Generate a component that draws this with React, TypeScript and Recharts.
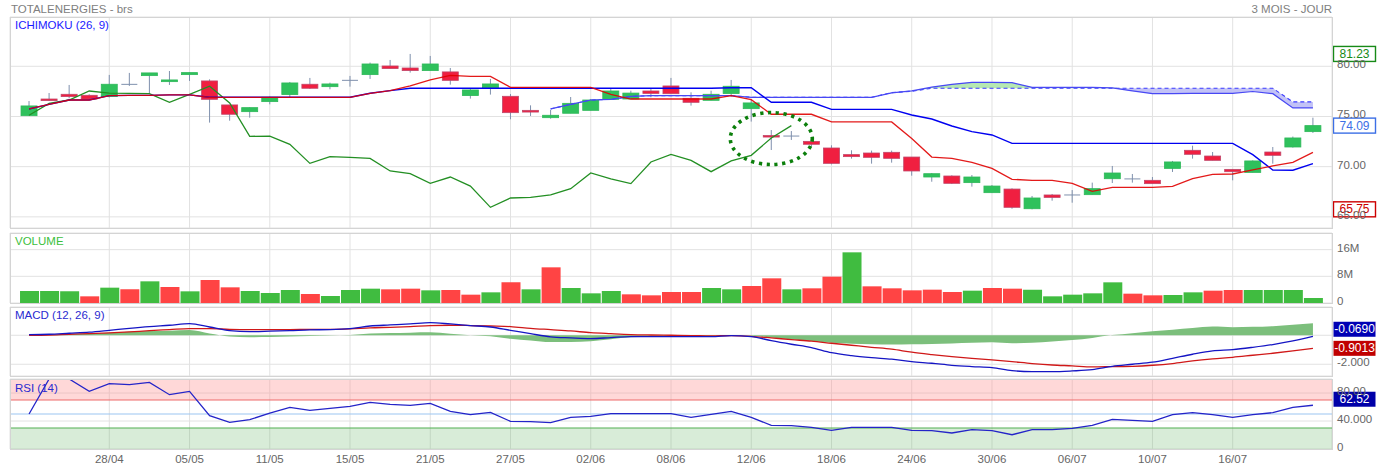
import React from "react";
import {
  ComposedChart,
  Bar,
  Line,
  Area,
  XAxis,
  YAxis,
  CartesianGrid,
  ReferenceLine,
  ReferenceArea,
  ReferenceDot,
  Cell,
} from "recharts";

const FONT = "'Liberation Sans', Arial, Helvetica, sans-serif";

// trading sessions, one candle each
const dates = [
  "22/04", "23/04", "24/04", "27/04", "28/04", "29/04", "30/04", "04/05", "05/05", "06/05",
  "07/05", "08/05", "11/05", "12/05", "13/05", "14/05", "15/05", "18/05", "19/05", "20/05",
  "21/05", "22/05", "25/05", "26/05", "27/05", "28/05", "29/05", "01/06", "02/06", "03/06",
  "04/06", "05/06", "08/06", "09/06", "10/06", "11/06", "12/06", "15/06", "16/06", "17/06",
  "18/06", "19/06", "22/06", "23/06", "24/06", "25/06", "26/06", "29/06", "30/06", "01/07",
  "02/07", "03/07", "06/07", "07/07", "08/07", "09/07", "10/07", "13/07", "14/07", "15/07",
  "16/07", "17/07", "20/07", "21/07", "22/07",
];

const opens = [
  75.08, 76.74, 77.21, 77.11, 76.98, 78.2, 79.07, 78.47, 79.17, 78.54,
  76.15, 75.48, 76.48, 77.18, 78.21, 77.97, 78.6, 79.17, 80.03, 79.83,
  79.57, 79.44, 77.08, 77.87, 77.01, 75.61, 74.88, 75.32, 75.61, 76.71,
  76.74, 77.54, 78.04, 76.81, 76.61, 77.28, 75.78, 73.1, 73.05, 72.52,
  71.86, 71.2, 71.36, 71.43, 70.96, 68.97, 69.07, 68.41, 67.41, 67.77,
  65.81, 67.18, 67.18, 67.21, 68.8, 68.78, 68.64, 69.83, 71.63, 71.06,
  69.73, 69.43, 71.46, 71.96, 73.49,
];
const highs = [
  76.54, 77.34, 78.14, 77.21, 79.14, 79.34, 79.34, 79.53, 79.4, 78.7,
  76.15, 75.91, 76.98, 78.44, 78.84, 78.37, 79.04, 80.37, 80.63, 81.23,
  81.03, 79.83, 77.8, 78.74, 77.24, 76.11, 75.65, 76.94, 76.74, 77.77,
  77.57, 77.74, 78.84, 77.41, 77.57, 78.64, 76.64, 73.65, 73.55, 72.72,
  72.13, 71.63, 71.6, 71.6, 70.96, 69.37, 69.14, 69.17, 68.17, 67.84,
  67.08, 67.28, 67.67, 68.41, 70.07, 69.27, 68.97, 70.57, 72.09, 71.46,
  69.73, 70.63, 71.96, 73.0, 74.88,
];
const lows = [
  75.05, 76.54, 76.81, 76.64, 76.9, 78.04, 77.31, 78.14, 78.54, 74.39,
  74.58, 74.88, 76.21, 76.94, 77.74, 77.71, 77.97, 78.74, 79.77, 79.37,
  79.57, 78.17, 76.78, 77.18, 74.72, 75.05, 74.78, 75.32, 75.61, 76.71,
  76.74, 76.91, 77.27, 76.08, 76.61, 76.98, 74.49, 71.66, 72.66, 72.0,
  70.23, 70.8, 70.3, 70.4, 69.1, 68.5, 68.27, 68.01, 67.41, 65.81,
  65.75, 66.61, 66.41, 67.21, 68.37, 68.41, 68.31, 69.47, 70.8, 70.63,
  68.64, 69.43, 70.3, 71.9, 73.36,
];
const closes = [
  76.05, 76.58, 76.98, 76.74, 78.21, 78.2, 79.34, 78.64, 79.37, 76.71,
  75.22, 75.88, 76.91, 78.34, 77.81, 78.24, 78.6, 80.23, 79.77, 79.57,
  80.23, 78.6, 77.64, 78.24, 75.38, 75.44, 75.12, 76.31, 76.64, 77.54,
  77.33, 77.3, 77.27, 76.41, 77.21, 78.01, 76.35, 73.02, 73.05, 72.23,
  70.33, 71.0, 70.93, 70.83, 69.57, 69.3, 68.34, 68.97, 68.07, 65.95,
  66.88, 66.94, 67.18, 67.81, 69.37, 68.78, 68.31, 70.47, 71.23, 70.63,
  69.5, 70.57, 71.13, 72.86, 74.09,
];

// volume in millions of shares
const volumes = [
  3.6, 3.6, 3.5, 2.0, 4.6, 4.1, 6.5, 4.8, 3.5, 6.9,
  4.7, 3.6, 3.0, 3.9, 2.7, 2.1, 3.9, 4.3, 4.1, 4.3,
  3.8, 3.9, 2.5, 3.2, 6.2, 4.1, 10.7, 4.5, 2.9, 3.6,
  2.6, 2.3, 3.3, 3.3, 4.5, 4.1, 5.1, 7.4, 4.1, 4.4,
  7.9, 15.2, 5.0, 4.4, 3.8, 4.0, 3.3, 3.7, 4.5, 4.3,
  4.0, 2.0, 2.5, 2.9, 6.2, 2.8, 2.3, 2.4, 3.2, 3.7,
  3.9, 3.9, 3.9, 3.9, 1.5,
];

// ichimoku: conversion line (9) and base line (26)
const tenkan = [
  75.75, 76.21, 76.64, 76.64, 77.08, 77.1, 77.1, 77.15, 77.15, 76.91,
  76.91, 76.91, 76.91, 76.91, 76.91, 76.91, 76.91, 77.31, 77.57, 78.04,
  78.64, 79.1, 79.0, 79.0, 77.9, 77.9, 77.9, 77.9, 77.9, 77.2,
  76.74, 76.74, 76.74, 76.74, 76.74, 77.08, 76.67, 75.22, 75.22, 75.22,
  74.46, 74.46, 74.46, 74.46, 72.8, 70.96, 70.83, 70.43, 69.83, 68.74,
  68.64, 68.64, 68.34, 67.54, 67.94, 67.94, 67.94, 68.04, 68.8, 69.24,
  69.27, 69.67, 70.07, 70.43, 71.43,
];
const kijun = [
  75.75, 76.21, 76.64, 76.64, 77.08, 77.1, 77.1, 77.15, 77.15, 76.91,
  76.91, 76.91, 76.91, 76.91, 76.91, 76.91, 76.91, 77.31, 77.57, 77.81,
  77.81, 77.81, 77.81, 77.81, 77.81, 77.81, 77.81, 77.81, 77.81, 77.81,
  77.81, 77.81, 77.81, 77.81, 77.81, 77.86, 77.86, 76.41, 76.41, 76.41,
  75.71, 75.71, 75.71, 75.71, 75.15, 74.75, 74.05, 73.49, 73.16, 72.32,
  72.32, 72.32, 72.32, 72.32, 72.32, 72.32, 72.32, 72.32, 72.32, 72.32,
  72.32, 71.2, 69.67, 69.65, 70.3,
];

// leading spans, plotted from session 26 onward
const SPAN_START = 26;
const senkouA = [
  75.75, 76.21, 76.64, 76.7, 77.0, 77.08, 77.08, 77.08, 77.08, 77.08,
  76.91, 76.91, 76.91, 76.91, 76.91, 76.91, 76.91, 77.35, 77.55, 77.93,
  78.2, 78.4, 78.4, 78.37, 77.9, 77.9, 77.9, 77.9, 77.85, 77.55,
  77.27, 77.27, 77.3, 77.31, 77.31, 77.49, 77.27, 75.85, 75.85,
];
const senkouB = [
  75.75, 76.21, 76.64, 76.7, 77.0, 77.08, 77.08, 77.08, 77.08, 77.08,
  76.91, 76.91, 76.91, 76.91, 76.91, 76.91, 76.91, 77.38, 77.51, 77.81,
  77.81, 77.81, 77.81, 77.81, 77.81, 77.81, 77.81, 77.81, 77.81, 77.81,
  77.81, 77.81, 77.81, 77.81, 77.81, 77.81, 77.81, 76.45, 76.45,
];
// lagging span = close drawn 26 sessions back
const CHIKOU_SHIFT = 26;

const macdLine = [
  0.05, 0.07, 0.14, 0.21, 0.34, 0.48, 0.6, 0.69, 0.8, 0.57,
  0.32, 0.25, 0.28, 0.32, 0.37, 0.39, 0.46, 0.64, 0.71, 0.78,
  0.87, 0.78, 0.67, 0.57, 0.34, 0.11, -0.11, -0.18, -0.23, -0.16,
  -0.09, -0.09, -0.09, -0.09, -0.09, -0.02, -0.09, -0.37, -0.62, -0.85,
  -1.2, -1.4, -1.54, -1.65, -1.82, -1.93, -2.07, -2.16, -2.23, -2.44,
  -2.51, -2.51, -2.46, -2.37, -2.14, -2.0, -1.86, -1.59, -1.31, -1.08,
  -0.99, -0.83, -0.64, -0.39, -0.069,
];
const signalLine = [
  0, 0.02, 0.07, 0.11, 0.16, 0.23, 0.32, 0.39, 0.46, 0.46,
  0.41, 0.39, 0.39, 0.39, 0.41, 0.41, 0.44, 0.51, 0.55, 0.6,
  0.67, 0.69, 0.67, 0.64, 0.6, 0.48, 0.39, 0.3, 0.18, 0.11,
  0.05, 0.02, 0, -0.02, -0.05, -0.02, -0.07, -0.18, -0.3, -0.41,
  -0.55, -0.69, -0.83, -0.96, -1.17, -1.33, -1.47, -1.59, -1.7, -1.82,
  -1.95, -2.05, -2.11, -2.18, -2.16, -2.14, -2.07, -1.95, -1.77, -1.63,
  -1.52, -1.38, -1.24, -1.08, -0.9013,
];
const histogram = [
  0, 0.02, 0.07, 0.1, 0.17, 0.24, 0.29, 0.32, 0.36, 0.12,
  -0.08, -0.13, -0.12, -0.08, -0.05, -0.02, 0.02, 0.12, 0.15, 0.18,
  0.2, 0.1, 0, -0.07, -0.24, -0.36, -0.47, -0.46, -0.41, -0.27,
  -0.14, -0.1, -0.08, -0.06, -0.04, 0, -0.03, -0.15, -0.28, -0.4,
  -0.52, -0.58, -0.62, -0.64, -0.62, -0.6, -0.57, -0.52, -0.48, -0.55,
  -0.52, -0.43, -0.33, -0.18, 0.01, 0.14, 0.27, 0.38, 0.5, 0.6,
  0.55, 0.58, 0.63, 0.72, 0.832,
];

const rsi = [
  50, 100, 100, 82.3, 93.3, 91.9, 95.2, 77.6, 82.3, 47.6,
  38, 41.9, 51.4, 59.5, 55.2, 58, 60.9, 66.6, 63.8, 62.3,
  65.2, 53.8, 49, 52.3, 39.5, 39, 37.6, 45.2, 46.6, 50.4,
  50.4, 50.4, 50.4, 45.2, 49.5, 53.8, 45.2, 33.8, 33.3, 30.9,
  26.6, 30.9, 30.9, 30.9, 26.6, 26.2, 22.9, 27.6, 26.2, 20.4,
  27.6, 27.6, 29.5, 33.8, 42.3, 40.9, 39.5, 49, 51.9, 49,
  45.2, 49, 51.9, 59.5, 62.52,
];

const X_TICKS = [4, 8, 12, 16, 20, 24, 28, 32, 36, 40, 44, 48, 52, 56, 60];
const X_DOMAIN: [number, number] = [-0.95, 64.95];

const rows = dates.map((date, i) => {
  const a = i >= SPAN_START ? senkouA[i - SPAN_START] : null;
  const b = i >= SPAN_START ? senkouB[i - SPAN_START] : null;
  return {
    i,
    date,
    open: opens[i],
    high: highs[i],
    low: lows[i],
    close: closes[i],
    range: [lows[i], highs[i]],
    vol: volumes[i],
    up: i === 0 || closes[i] > closes[i - 1],
    tenkan: tenkan[i],
    kijun: kijun[i],
    chikou: i + CHIKOU_SHIFT < closes.length ? closes[i + CHIKOU_SHIFT] : null,
    spanA: a,
    spanB: b,
    cloudUp: a == null || b == null ? null : [b, Math.max(a, b)],
    cloudDown: a == null || b == null ? null : [Math.min(a, b), b],
    macd: macdLine[i],
    signal: signalLine[i],
    hist: histogram[i],
    rsi: rsi[i],
  };
});

const W = 1377;
const AXIS_W = 45;
const MARGIN = { top: 0, right: 0, bottom: 0, left: 10 };
const GRID = "#e2e2e2";
const BORDER = "#d4d4d4";
const WICK = "#7f90ad";

// right-side tick text, nudged a little above its grid line
const rightTick = (fmt: (v: number) => string) => (p: any) => (
  <text
    x={p.x}
    y={p.y - 2}
    textAnchor="start"
    dominantBaseline="central"
    fontFamily={FONT}
    fontSize={11.5}
    fill="#666"
  >
    {fmt(p.payload.value)}
  </text>
);

const Candle = (props: any) => {
  const { x, y, width, height, payload } = props;
  if (x == null || !payload) return null;
  const top = Math.min(y, y + height);
  const h = Math.abs(height);
  const { open, close, high, low } = payload;
  const py = (v: number) => (high === low ? top : top + ((high - v) / (high - low)) * h);
  const cx = x + width / 2;
  const yo = py(open);
  const yc = py(close);
  const wick = <line x1={cx} x2={cx} y1={top} y2={top + h} stroke={WICK} strokeWidth={1} />;
  if (open === close) {
    return (
      <g>
        {wick}
        <line x1={x} x2={x + width} y1={yo} y2={yo} stroke={WICK} strokeWidth={1} />
      </g>
    );
  }
  const rising = close > open;
  const bodyTop = Math.min(yo, yc);
  const bodyH = Math.max(Math.abs(yo - yc), 1.5);
  return (
    <g>
      {wick}
      <rect
        x={x}
        y={bodyTop}
        width={width}
        height={bodyH}
        fill={rising ? "#2fc15c" : "#f01f40"}
        stroke={rising ? "#2fb85a" : "#c0476a"}
        strokeWidth={0.8}
      />
    </g>
  );
};

// last-value tag drawn in the right-hand axis gutter
const tag = (text: string, color: string, filled: boolean, dy = 0) => (p: any) => {
  const bx = p.cx + 1.5;
  const cy = p.cy + dy;
  return (
    <g>
      <rect
        x={bx}
        y={cy - 7.5}
        width={42}
        height={15}
        fill={filled ? color : "#fff"}
        stroke={color}
        strokeWidth={filled ? 0 : 1.4}
      />
      <text
        x={bx + 21}
        y={cy}
        textAnchor="middle"
        dominantBaseline="central"
        fontFamily={FONT}
        fontSize={12}
        fill={filled ? "#fff" : color}
      >
        {text}
      </text>
    </g>
  );
};

const annotation = (p: any) => (
  <ellipse
    cx={p.cx}
    cy={p.cy}
    rx={41}
    ry={26}
    fill="none"
    stroke="#0b7f0b"
    strokeWidth={3.6}
    strokeDasharray="3.2 4.6"
  />
);

const Caption = ({ x, y, color, size = 11.5, children, right }: any) => (
  <div
    style={{
      position: "absolute",
      top: y - 7,
      left: right ? undefined : x,
      right: right ? W - x : undefined,
      lineHeight: "14px",
      fontSize: size,
      fontFamily: FONT,
      color,
      whiteSpace: "nowrap",
    }}
  >
    {children}
  </div>
);

const Frame = ({ top, height }: { top: number; height: number }) => (
  <div
    style={{
      position: "absolute",
      left: 10,
      top,
      width: 1323,
      height,
      border: `1px solid ${BORDER}`,
      boxSizing: "border-box",
      pointerEvents: "none",
    }}
  />
);

const hiddenX = (
  <XAxis type="number" dataKey="i" domain={X_DOMAIN} ticks={X_TICKS} allowDataOverflow hide />
);

const yAxisBase = {
  orientation: "right" as const,
  width: AXIS_W,
  interval: 0 as const,
  allowDataOverflow: true,
  axisLine: false,
  tickLine: false,
  tickSize: 0,
  tickMargin: 5,
};

export default function App() {
  return (
    <div style={{ position: "absolute", left: 0, top: 0, width: W, height: 470, background: "#fff" }}>
      <style>{`.recharts-surface { overflow: visible; }`}</style>
      <Caption x={11} y={9} color="#808080">TOTALENERGIES - brs</Caption>
      <Caption x={1332} y={9} color="#808080" right>3 MOIS - JOUR</Caption>

      {/* Ichimoku price panel */}
      <div style={{ position: "absolute", left: 0, top: 17 }}>
        <ComposedChart width={W} height={211} data={rows} margin={MARGIN}>
          <CartesianGrid stroke={GRID} />
          {hiddenX}
          <YAxis
            {...yAxisBase}
            domain={[63.89, 84.91]}
            ticks={[65, 70, 75, 80]}
            tick={rightTick((v) => v.toFixed(2))}
          />
          <Area dataKey="cloudUp" type="linear" stroke="none" fill="#b6e8b2" fillOpacity={1} isAnimationActive={false} />
          <Area dataKey="cloudDown" type="linear" stroke="none" fill="#c2c2f6" fillOpacity={1} isAnimationActive={false} />
          <Bar dataKey="range" barSize={16} shape={Candle} isAnimationActive={false} />
          <Line dataKey="chikou" type="linear" stroke="#238f23" strokeWidth={1.3} dot={false} activeDot={false} isAnimationActive={false} />
          <Line dataKey="spanB" type="linear" stroke="#3b3bff" strokeWidth={1.1} strokeDasharray="4 3" dot={false} activeDot={false} isAnimationActive={false} />
          <Line dataKey="spanA" type="linear" stroke="#4848f4" strokeWidth={1.2} dot={false} activeDot={false} isAnimationActive={false} />
          <Line dataKey="kijun" type="linear" stroke="#0000f0" strokeWidth={1.4} dot={false} activeDot={false} isAnimationActive={false} />
          <Line dataKey="tenkan" type="linear" stroke="#e00000" strokeWidth={1.3} strokeOpacity={0.9} dot={false} activeDot={false} isAnimationActive={false} />
          <ReferenceDot x={37} y={72.8} ifOverflow="visible" shape={annotation} />
          <ReferenceDot x={X_DOMAIN[1]} y={81.23} ifOverflow="visible" shape={tag("81.23", "#178a17", false)} />
          <ReferenceDot x={X_DOMAIN[1]} y={74.09} ifOverflow="visible" shape={tag("74.09", "#3c6fe6", false)} />
          <ReferenceDot x={X_DOMAIN[1]} y={65.75} ifOverflow="visible" shape={tag("65.75", "#cc0000", false)} />
        </ComposedChart>
      </div>
      <Frame top={17} height={212} />
      <Caption x={15} y={25} color="#1a1aff">ICHIMOKU (26, 9)</Caption>

      {/* volume panel */}
      <div style={{ position: "absolute", left: 0, top: 233 }}>
        <ComposedChart width={W} height={70} data={rows} margin={MARGIN}>
          <CartesianGrid stroke={GRID} />
          {hiddenX}
          <YAxis
            {...yAxisBase}
            domain={[0, 21]}
            ticks={[0, 8, 16]}
            tick={rightTick((v) => (v === 0 ? "0" : `${v}M`))}
          />
          <Bar dataKey="vol" barSize={19} isAnimationActive={false}>
            {rows.map((r) => (
              <Cell key={r.i} fill={r.up ? "#40bc40" : "#ff4444"} />
            ))}
          </Bar>
        </ComposedChart>
      </div>
      <Frame top={233} height={71} />
      <Caption x={15} y={241} color="#3cc03c">VOLUME</Caption>

      {/* MACD panel */}
      <div style={{ position: "absolute", left: 0, top: 307 }}>
        <ComposedChart width={W} height={69} data={rows} margin={MARGIN}>
          <CartesianGrid stroke={GRID} />
          {hiddenX}
          <YAxis
            {...yAxisBase}
            domain={[-2.81, 1.95]}
            ticks={[-2, 0]}
            tick={rightTick((v) => (v === -2 ? "-2.000" : ""))}
          />
          <Area dataKey="hist" type="monotone" baseValue={0} stroke="none" fill="#7cbf7c" fillOpacity={1} isAnimationActive={false} />
          <Line dataKey="signal" type="monotone" stroke="#d01818" strokeWidth={1.3} dot={false} activeDot={false} isAnimationActive={false} />
          <Line dataKey="macd" type="monotone" stroke="#1515c4" strokeWidth={1.3} dot={false} activeDot={false} isAnimationActive={false} />
          <ReferenceDot x={X_DOMAIN[1]} y={-0.069} ifOverflow="visible" shape={tag("-0.0690", "#0000b4", true, -7)} />
          <ReferenceDot x={X_DOMAIN[1]} y={-0.9013} ifOverflow="visible" shape={tag("-0.9013", "#c00000", true)} />
        </ComposedChart>
      </div>
      <Frame top={307} height={70} />
      <Caption x={15} y={315} color="#2a2ad0">MACD (12, 26, 9)</Caption>

      {/* RSI panel with date axis */}
      <div style={{ position: "absolute", left: 0, top: 379 }}>
        <ComposedChart width={W} height={92} data={rows} margin={MARGIN}>
          <CartesianGrid stroke={GRID} />
          <XAxis
            type="number"
            dataKey="i"
            domain={X_DOMAIN}
            ticks={X_TICKS}
            interval={0}
            allowDataOverflow
            height={22}
            axisLine={false}
            tickLine={false}
            tickSize={0}
            tickMargin={6}
            tick={{ fill: "#666", fontSize: 11.5, fontFamily: FONT }}
            tickFormatter={(v: number) => dates[v] ?? ""}
          />
          <YAxis
            {...yAxisBase}
            domain={[0, 100]}
            ticks={[0, 40, 80]}
            tick={rightTick((v) => (v === 0 ? "0" : v === 40 ? "40.000" : "80.00"))}
          />
          <ReferenceArea y1={70} y2={100} fill="#ff9494" fillOpacity={0.36} stroke="none" ifOverflow="hidden" />
          <ReferenceArea y1={0} y2={30} fill="#64b464" fillOpacity={0.25} stroke="none" ifOverflow="hidden" />
          <ReferenceLine y={70} stroke="#ee6a6a" strokeWidth={1.2} />
          <ReferenceLine y={50} stroke="#9cc6f2" strokeWidth={1.2} />
          <ReferenceLine y={30} stroke="#52b052" strokeWidth={1.2} />
          <Line dataKey="rsi" type="linear" stroke="#2424c8" strokeWidth={1.3} dot={false} activeDot={false} isAnimationActive={false} />
          <ReferenceDot x={X_DOMAIN[1]} y={62.52} ifOverflow="visible" shape={tag("62.52", "#0000a8", true, -6)} />
        </ComposedChart>
      </div>
      <Frame top={379} height={71} />
      <Caption x={15} y={388} color="#2a2ad0">RSI (14)</Caption>
    </div>
  );
}
